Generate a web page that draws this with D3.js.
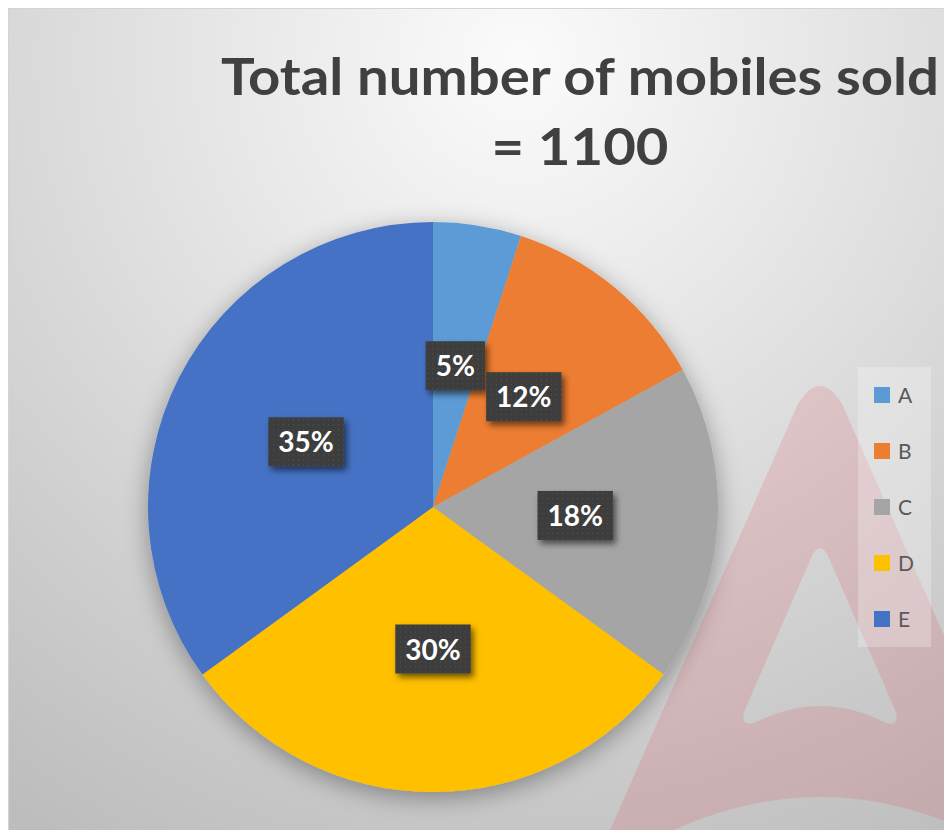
<!DOCTYPE html>
<html>
<head>
<meta charset="utf-8">
<script src="https://cdn.jsdelivr.net/npm/d3@7"></script>
<style>
  html, body { margin: 0; padding: 0; background: #fff; }
  svg { display: block; }
</style>
</head>
<body>
<svg width="944" height="830"></svg>
<script>
// chart data
var categories = ["A", "B", "C", "D", "E"];
var shares = [5, 12, 18, 30, 35];
var sliceColors = ["#5B9BD5", "#ED7D31", "#A5A5A5", "#FFC000", "#4472C4"];
var titleLines = ["Total number of mobiles sold", "= 1100"];

var svg = d3.select("svg");
var W = 944, H = 830;
var font = "Lato, 'Open Sans', sans-serif";

var defs = svg.append("defs");

// background gradient (white at top, grey toward the edges)
var bg = defs.append("radialGradient").attr("id", "bg")
    .attr("gradientUnits", "userSpaceOnUse")
    .attr("cx", 520).attr("cy", 60).attr("r", 900);
bg.append("stop").attr("offset", 0).attr("stop-color", "#fbfbfb");
bg.append("stop").attr("offset", 0.35).attr("stop-color", "#e6e6e6");
bg.append("stop").attr("offset", 1).attr("stop-color", "#bdbdbd");

// soft shadow round the pie
var pieShadow = defs.append("filter").attr("id", "pieShadow")
    .attr("x", "-20%").attr("y", "-20%").attr("width", "140%").attr("height", "140%");
pieShadow.append("feDropShadow").attr("dx", 0).attr("dy", 6)
    .attr("stdDeviation", 12).attr("flood-color", "#000").attr("flood-opacity", 0.35);

// label box shadow
var boxShadow = defs.append("filter").attr("id", "boxShadow")
    .attr("x", "-30%").attr("y", "-30%").attr("width", "160%").attr("height", "160%");
boxShadow.append("feDropShadow").attr("dx", 3).attr("dy", 4)
    .attr("stdDeviation", 3).attr("flood-color", "#000").attr("flood-opacity", 0.55);

// dotted dark fill of the labels
var dots = defs.append("pattern").attr("id", "dots")
    .attr("patternUnits", "userSpaceOnUse").attr("width", 5).attr("height", 5);
dots.append("rect").attr("width", 5).attr("height", 5).attr("fill", "#3d3d3d");
dots.append("rect").attr("x", 2).attr("y", 2).attr("width", 1).attr("height", 1).attr("fill", "#575757");

// frame
svg.append("rect").attr("x", 8.5).attr("y", 8.5).attr("width", W).attr("height", H)
    .attr("fill", "url(#bg)").attr("stroke", "#d4d4d4");

// title
var title = svg.append("g").attr("fill", "#404040")
    .style("font-family", font).style("font-weight", 700).style("font-size", "52px");
title.selectAll("text").data(titleLines).enter().append("text")
    .attr("x", 580)
    .attr("y", function(d, i) { return 95 + i * 70; })
    .attr("text-anchor", "middle")
    .text(function(d) { return d; });
var t0 = title.select("text").node();
if (t0.getComputedTextLength() > 0) {
    var k = 718 / t0.getComputedTextLength();
    title.selectAll("text").attr("textLength", function() { return this.getComputedTextLength() * k; })
        .attr("lengthAdjust", "spacingAndGlyphs");
}

// pie
var cx = 433, cy = 507, R = 285;
var total = d3.sum(shares);
var pie = d3.pie().sort(null).value(function(d) { return d; });
var arc = d3.arc().innerRadius(0).outerRadius(R);
var arcs = pie(shares);

var g = svg.append("g").attr("transform", "translate(" + cx + "," + cy + ")");
g.append("g").attr("filter", "url(#pieShadow)")
  .selectAll("path").data(arcs).enter().append("path")
    .attr("d", arc)
    .attr("fill", function(d, i) { return sliceColors[i]; });

// watermark
var mark = "M588,880 L798,404 Q820,368 842,404 L1052,880 Q820,714 588,880 Z " +
           "M812,556 Q820,540 828,556 L896,712 Q900,728 884,722 Q820,690 756,722 Q740,728 744,712 Z";
svg.append("path").attr("d", mark).attr("fill", "#e2283c")
    .attr("fill-opacity", 0.14).attr("fill-rule", "evenodd");

// data labels
var fmt = d3.format(".0%");
var labels = g.selectAll("g.lbl").data(arcs).enter().append("g")
    .attr("class", "lbl")
    .attr("transform", function(d) { var c = arc.centroid(d); return "translate(" + c[0] + "," + c[1] + ")"; });
var box = labels.append("rect").attr("fill", "url(#dots)").attr("filter", "url(#boxShadow)");
var txt = labels.append("text")
    .attr("text-anchor", "middle").attr("y", 10)
    .attr("fill", "#fff")
    .style("font-family", font).style("font-weight", 700).style("font-size", "28px")
    .text(function(d) { return fmt(d.value / total); });
labels.each(function() {
    var w = d3.select(this).select("text").node().getComputedTextLength() + 20;
    d3.select(this).select("rect").attr("x", -w / 2).attr("y", -25).attr("width", w).attr("height", 49);
});

// legend
var legend = svg.append("g");
legend.append("rect").attr("x", 858).attr("y", 367).attr("width", 73).attr("height", 280)
    .attr("fill", "#fff").attr("fill-opacity", 0.25);
var ly = d3.scalePoint().domain(categories).range([395, 619]);
var items = legend.selectAll("g.item").data(categories).enter().append("g")
    .attr("class", "item")
    .attr("transform", function(d) { return "translate(874," + ly(d) + ")"; });
items.append("rect").attr("x", 0).attr("y", -8).attr("width", 16).attr("height", 16)
    .attr("fill", function(d, i) { return sliceColors[i]; });
items.append("text").attr("x", 24).attr("y", 7.5)
    .attr("fill", "#595959")
    .style("font-family", font).style("font-size", "21px")
    .text(function(d) { return d; });
</script>
</body>
</html>
